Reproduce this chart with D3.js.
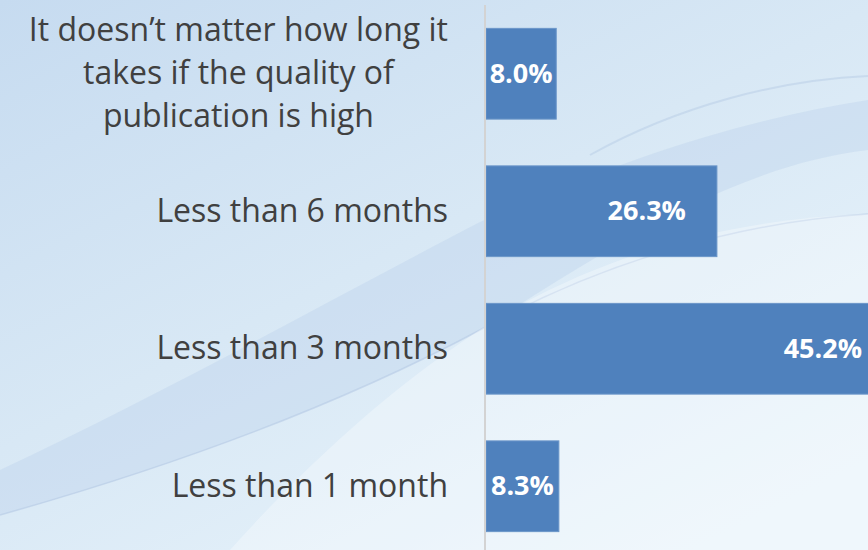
<!DOCTYPE html>
<html>
<head>
<meta charset="utf-8">
<style>
  body { margin: 0; overflow: hidden; }
  svg { display: block; }
  .cat { font-family: "Open Sans", sans-serif; font-size: 32px; fill: #404040; }
  .val { font-family: "Open Sans", sans-serif; font-size: 27px; font-weight: bold; fill: #ffffff; }
</style>
</head>
<body>
<svg width="868" height="550"></svg>
<script src="https://d3js.org/d3.v7.min.js"></script>
<script>

// data, top to bottom
var categories = [
  ["It doesn\u2019t matter how long it", "takes if the quality of", "publication is high"],
  ["Less than 6 months"],
  ["Less than 3 months"],
  ["Less than 1 month"]
];
var values = [8.0, 26.3, 45.2, 8.3];
var valueLabels = ["8.0%", "26.3%", "45.2%", "8.3%"];

var svg = d3.select("svg"),
    width = +svg.attr("width"),
    height = +svg.attr("height");

// background
var defs = svg.append("defs");
var bg = defs.append("linearGradient")
    .attr("id", "bg")
    .attr("x1", "0").attr("y1", "0").attr("x2", "0.8").attr("y2", "1");
bg.append("stop").attr("offset", "0%").attr("stop-color", "#c6dbf0");
bg.append("stop").attr("offset", "50%").attr("stop-color", "#d8e8f5");
bg.append("stop").attr("offset", "100%").attr("stop-color", "#e9f4fb");

svg.append("rect")
    .attr("width", width)
    .attr("height", height)
    .attr("fill", "url(#bg)");

// swooshes
svg.append("path")
    .attr("d", "M0,470 C160,395 330,300 480,222 C620,160 740,120 868,100 L868,150 C740,165 620,240 480,330 C330,410 160,470 0,515 Z")
    .attr("fill", "#b3cbe7")
    .attr("opacity", 0.3);
svg.append("path")
    .attr("d", "M0,515 C160,470 330,410 480,330 C600,262 740,222 868,214")
    .attr("fill", "none")
    .attr("stroke", "#b5cae4")
    .attr("stroke-width", 1.5)
    .attr("opacity", 0.6);
svg.append("path")
    .attr("d", "M230,550 C320,450 410,370 520,305 C640,240 760,218 868,214 L868,550 Z")
    .attr("fill", "#ffffff")
    .attr("opacity", 0.3);
svg.append("path")
    .attr("d", "M590,155 C680,105 780,80 868,76")
    .attr("fill", "none")
    .attr("stroke", "#bcd0e8")
    .attr("stroke-width", 2)
    .attr("opacity", 0.6);

// scales
var y = d3.scaleBand()
    .domain(d3.range(values.length))
    .range([5, 555])
    .paddingInner(0.34)
    .paddingOuter(0.17);

var x = d3.scaleLinear()
    .domain([0, 50])
    .range([486, 925]);

var g = svg.append("g");

// bars
g.selectAll(".bar")
    .data(values)
  .enter().append("rect")
    .attr("class", "bar")
    .attr("x", x(0))
    .attr("y", function(d, i) { return y(i); })
    .attr("width", function(d) { return x(d) - x(0); })
    .attr("height", y.bandwidth())
    .attr("fill", "#4f81bd")
    .attr("stroke", "#6b96c9")
    .attr("stroke-width", 1);

// axis line
g.append("line")
    .attr("x1", x(0) - 1).attr("x2", x(0) - 1)
    .attr("y1", 5).attr("y2", height)
    .attr("stroke", "#d3d3d3")
    .attr("stroke-width", 2);

// category labels
var labelRight = x(0) - 38;
var lineH = 43;
categories.forEach(function(lines, i) {
  var cy = y(i) + y.bandwidth() / 2;
  var t = g.append("text")
      .attr("class", "cat");
  lines.forEach(function(line, j) {
    t.append("tspan")
        .attr("y", cy + (j - (lines.length - 1) / 2) * lineH)
        .attr("dy", "0.33em")
        .text(line);
  });
  if (lines.length === 1) {
    t.attr("text-anchor", "end");
    t.selectAll("tspan").attr("x", labelRight);
  } else {
    var maxW = 0;
    t.selectAll("tspan").each(function() { maxW = Math.max(maxW, this.getComputedTextLength()); });
    t.attr("text-anchor", "middle");
    t.selectAll("tspan").attr("x", labelRight - maxW / 2);
  }
});

// value labels
g.selectAll(".val")
    .data(values)
  .enter().append("text")
    .attr("class", "val")
    .attr("y", function(d, i) { return y(i) + y.bandwidth() / 2; })
    .attr("dy", "0.33em")
    .text(function(d, i) { return valueLabels[i]; })
    .each(function(d) {
      var w = this.getComputedTextLength();
      var barW = x(d) - x(0);
      var sel = d3.select(this);
      if (barW < w + 40) {
        sel.attr("text-anchor", "middle").attr("x", x(0) + barW / 2);
      } else if (x(d) > width) {
        sel.attr("text-anchor", "end").attr("x", width - 6);
      } else {
        sel.attr("text-anchor", "end").attr("x", x(d) - 31);
      }
    });

</script>
</body>
</html>
